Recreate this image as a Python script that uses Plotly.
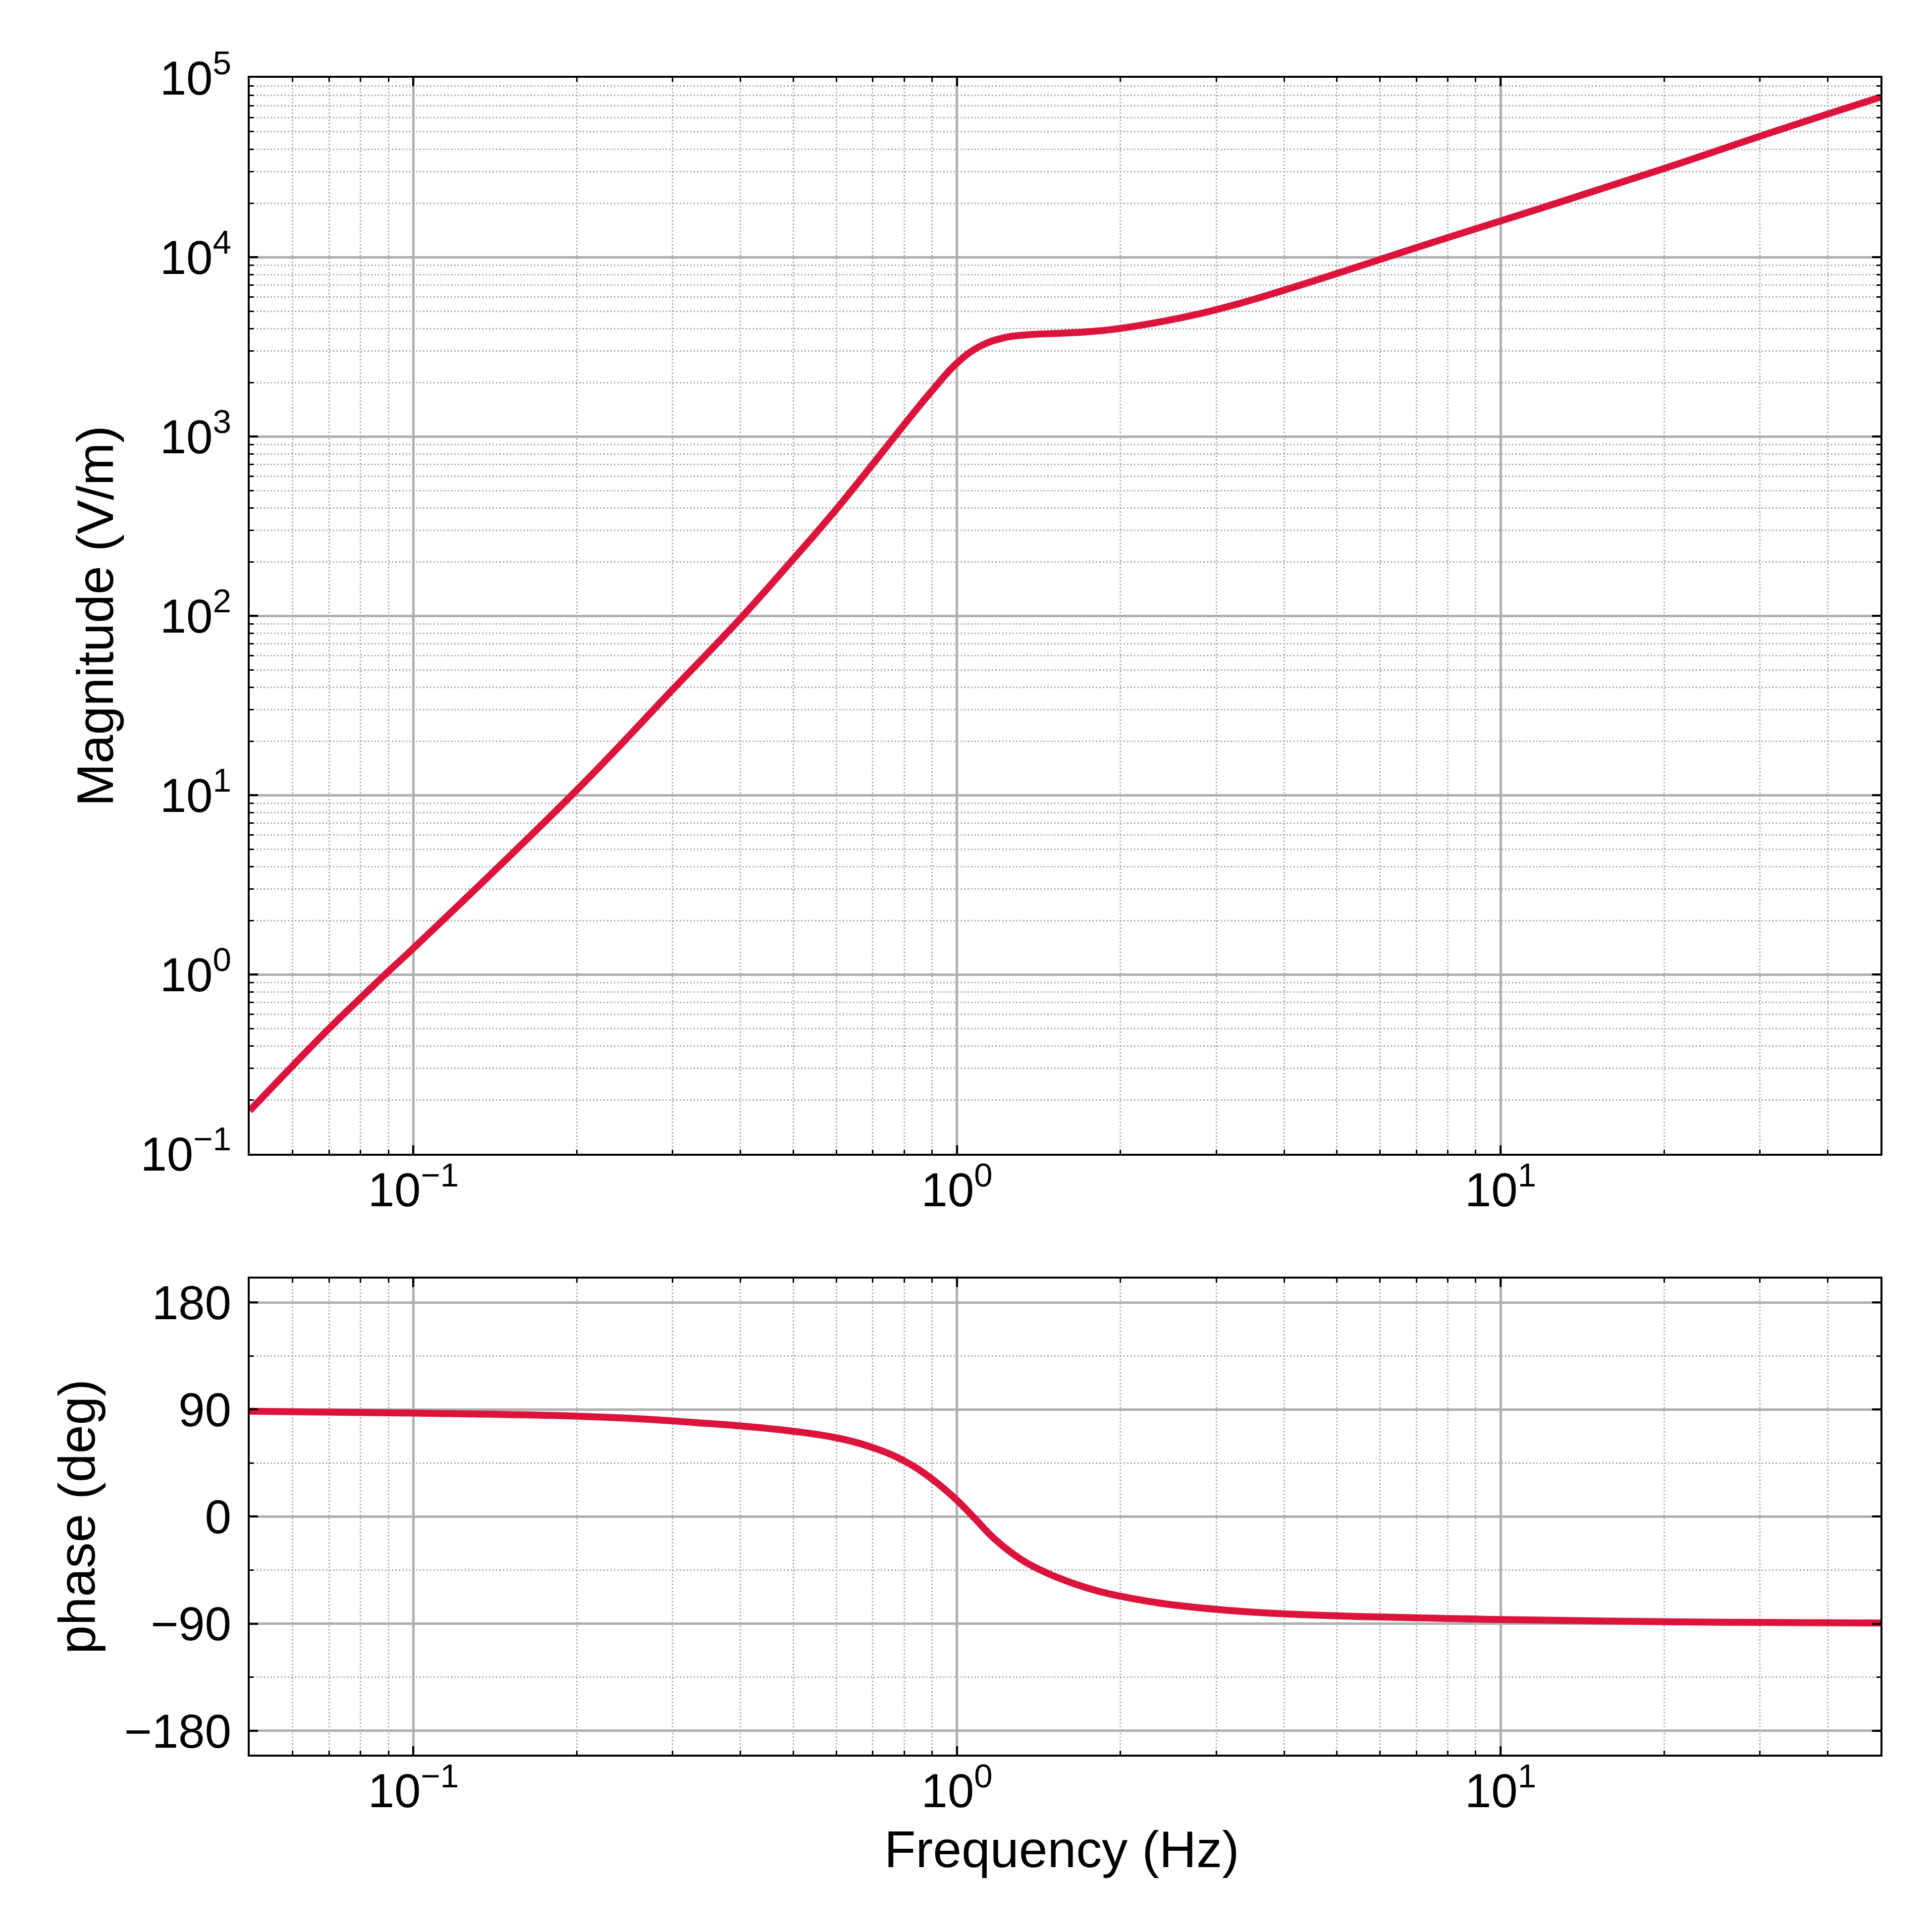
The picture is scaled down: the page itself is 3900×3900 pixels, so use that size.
import plotly.graph_objects as go

# Bode plot: magnitude (top, log-log) and phase (bottom, log-x)

mag_freq_hz = [0.05, 0.06, 0.07, 0.08, 0.09, 0.1, 0.2, 0.3, 0.4, 0.5, 0.6,
               0.7, 0.8, 0.9, 1.0, 1.1, 1.22, 1.35, 1.55, 1.79, 1.97, 2.34,
               2.79, 3.32, 3.95, 5, 7, 10, 20, 30, 40, 50]
mag_v_per_m = [0.174, 0.31, 0.50, 0.74, 1.04, 1.40, 10.7, 38.8, 96.8, 207,
               393, 700, 1165, 1800, 2565, 3170, 3550, 3690, 3760, 3860, 3980,
               4330, 4830, 5530, 6470, 8100, 11300, 15900, 31200, 47200,
               62800, 78000]

phase_freq_hz = [0.05, 0.1, 0.2, 0.27, 0.33, 0.4, 0.5, 0.6, 0.7, 0.8, 0.9,
                 1.0, 1.08, 1.18, 1.31, 1.46, 1.63, 1.81, 2.0, 2.24, 2.49, 3,
                 3.44, 4, 5, 6, 7, 8, 9, 10, 20, 30, 40, 50]
phase_deg = [88.6, 87.0, 84.4, 81.8, 79.0, 76.2, 71.7, 66.2, 58.0, 46.8, 31.6,
             13.8, -1.8, -19.8, -35.7, -47.1, -55.8, -62.3, -66.9, -71.0,
             -74.1, -77.9, -80.0, -81.7, -83.4, -84.3, -85.0, -85.6, -86.1,
             -86.5, -88.3, -88.9, -89.2, -89.4]

x_ticks = [0.1, 1, 10]
x_ticktext = ["10<sup>\u22121</sup>", "10<sup>0</sup>", "10<sup>1</sup>"]
mag_ticks = [0.1, 1, 10, 100, 1000, 10000, 100000]
mag_ticktext = ["10<sup>\u22121</sup>", "10<sup>0</sup>", "10<sup>1</sup>",
                "10<sup>2</sup>", "10<sup>3</sup>", "10<sup>4</sup>",
                "10<sup>5</sup>"]
phase_ticks = [-180, -90, 0, 90, 180]
phase_ticktext = ["\u2212180", "\u221290", "0", "90", "180"]

LINE_COLOR = "#DC143C"
GRID = "#b0b0b0"
FONT = "Liberation Sans"
TICK_SIZE = 96
TITLE_SIZE = 104

# minor tick positions (2..9 in each decade on the log axes)
minor_x = [m * 10.0 ** e for e in range(-2, 2) for m in range(2, 10)]
minor_mag = [m * 10.0 ** e for e in range(-1, 5) for m in range(2, 10)]
minor_phase = [-135, -45, 45, 135]


def minor_style(vals):
    return dict(
        tickvals=vals,
        ticks="inside",
        ticklen=8,
        tickwidth=3,
        tickcolor="black",
        showgrid=True,
        gridcolor=GRID,
        gridwidth=2.5,
        griddash="3px,4px",
    )


axis_style = dict(
    showline=True,
    linecolor="black",
    linewidth=4,
    mirror="ticks",
    ticks="inside",
    ticklen=17,
    tickwidth=3.5,
    tickcolor="black",
    showgrid=True,
    gridcolor=GRID,
    gridwidth=5,
    zeroline=False,
    tickfont=dict(family=FONT, size=TICK_SIZE, color="black"),
)

line_style = dict(color=LINE_COLOR, width=14, shape="spline", smoothing=1.2)

fig = go.Figure()

fig.add_trace(
    go.Scatter(
        x=mag_freq_hz,
        y=mag_v_per_m,
        mode="lines",
        line=line_style,
        xaxis="x",
        yaxis="y",
        showlegend=False,
    )
)
fig.add_trace(
    go.Scatter(
        x=phase_freq_hz,
        y=phase_deg,
        mode="lines",
        line=line_style,
        xaxis="x2",
        yaxis="y2",
        showlegend=False,
    )
)

fig.update_layout(
    width=3900,
    height=3900,
    paper_bgcolor="white",
    plot_bgcolor="white",
    margin=dict(l=496, r=112, t=149, b=366),
    font=dict(family=FONT, size=TICK_SIZE, color="black"),
    xaxis=dict(
        axis_style,
        type="log",
        range=[-1.30103, 1.69897],
        domain=[0, 1],
        anchor="y",
        tickmode="array",
        tickvals=x_ticks,
        ticktext=x_ticktext,
        ticklabelstandoff=-13,
        minor=minor_style(minor_x),
    ),
    yaxis=dict(
        axis_style,
        type="log",
        range=[-1, 5],
        domain=[0.3583, 1],
        anchor="x",
        tickmode="array",
        tickvals=mag_ticks,
        ticktext=mag_ticktext,
        ticklabelstandoff=14,
        minor=minor_style(minor_mag),
    ),
    xaxis2=dict(
        axis_style,
        type="log",
        range=[-1.30103, 1.69897],
        domain=[0, 1],
        anchor="y2",
        tickmode="array",
        tickvals=x_ticks,
        ticktext=x_ticktext,
        ticklabelstandoff=-13,
        minor=minor_style(minor_x),
    ),
    yaxis2=dict(
        axis_style,
        range=[-200, 200],
        domain=[0, 0.2839],
        anchor="x2",
        tickmode="array",
        tickvals=phase_ticks,
        ticktext=phase_ticktext,
        ticklabelstandoff=14,
        minor=minor_style(minor_phase),
    ),
    annotations=[
        dict(text="Magnitude (V/m)", xref="paper", yref="paper",
             x=-0.0948, y=0.6792, textangle=-90, showarrow=False,
             xanchor="center", yanchor="middle",
             font=dict(family=FONT, size=TITLE_SIZE, color="black")),
        dict(text="phase (deg)", xref="paper", yref="paper",
             x=-0.106, y=0.1418, textangle=-90, showarrow=False,
             xanchor="center", yanchor="middle",
             font=dict(family=FONT, size=TITLE_SIZE, color="black")),
        dict(text="Frequency (Hz)", xref="paper", yref="paper",
             x=0.4979, y=-0.0564, showarrow=False,
             xanchor="center", yanchor="middle",
             font=dict(family=FONT, size=TITLE_SIZE, color="black")),
    ],
)

fig.write_html("out.html")
